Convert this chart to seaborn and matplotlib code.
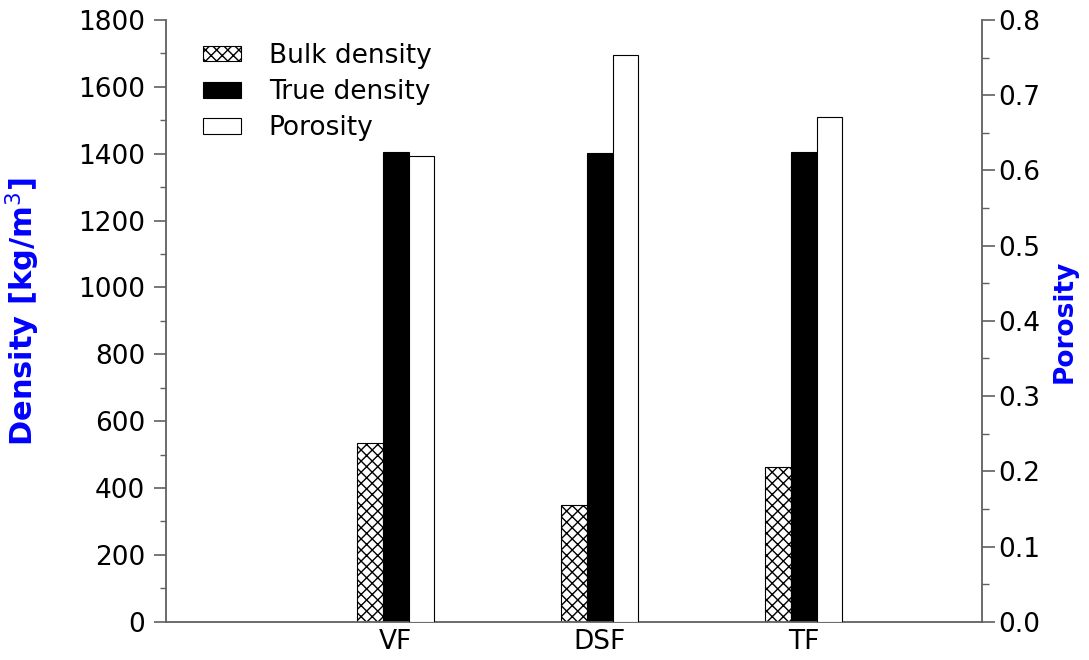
import matplotlib
matplotlib.use("Agg")
import matplotlib.pyplot as plt
from matplotlib.ticker import MultipleLocator, AutoMinorLocator
from matplotlib.patches import Patch
import seaborn as sns
import pandas as pd

categories = ["VF", "DSF", "TF"]
bulk_density = [535, 349, 463]
true_density = [1406, 1401, 1404]
porosity = [0.619, 0.753, 0.671]
series = ["Bulk density", "True density", "Porosity"]

sns.set_style("ticks")
plt.rcParams["font.family"] = ["DejaVu Sans"]
plt.rcParams["hatch.linewidth"] = 1.0
plt.rcParams["text.color"] = "black"
plt.rcParams["xtick.labelcolor"] = "black"
plt.rcParams["ytick.labelcolor"] = "black"

dens = pd.DataFrame({
    "cat": categories * 2,
    "series": [series[0]] * 3 + [series[1]] * 3,
    "value": bulk_density + true_density,
})
por = pd.DataFrame({"cat": categories, "series": [series[2]] * 3, "value": porosity})

palette = {series[0]: "white", series[1]: "black", series[2]: "white"}

fig = plt.figure(figsize=(10.89, 6.6), dpi=100)
ax = fig.add_axes([0.1524, 0.058, 0.7493, 0.9117])
ax2 = ax.twinx()

sns.barplot(data=dens, x="cat", y="value", hue="series", order=categories,
            hue_order=series, palette=palette, width=0.378, errorbar=None,
            saturation=1, edgecolor="black", linewidth=0.8, legend=False,
            dodge=True, ax=ax)
sns.barplot(data=por, x="cat", y="value", hue="series", order=categories,
            hue_order=series, palette=palette, width=0.378, errorbar=None,
            saturation=1, edgecolor="black", linewidth=0.8, legend=False,
            dodge=True, ax=ax2)

for bar in ax.containers[0]:
    bar.set_hatch("xxx")
    bar.set_edgecolor("black")

ax.set_xlim(-1.127, 2.873)
ax.set_ylim(0, 1800)
ax2.set_ylim(0, 0.8)
ax.yaxis.set_major_locator(MultipleLocator(200))
ax.yaxis.set_minor_locator(AutoMinorLocator(2))
ax2.yaxis.set_major_locator(MultipleLocator(0.1))
ax2.yaxis.set_minor_locator(AutoMinorLocator(2))
ax2.yaxis.set_major_formatter(plt.FuncFormatter(lambda v, p: f"{v:.1f}"))

spine_c = "#606060"
for a in (ax, ax2):
    a.spines["top"].set_visible(False)
    for s in a.spines.values():
        s.set_color(spine_c)
        s.set_linewidth(1.3)
ax.spines["right"].set_visible(False)
ax2.spines["left"].set_visible(False)
ax2.spines["bottom"].set_visible(False)

ax.tick_params(axis="y", which="major", length=9, width=1.2, color=spine_c,
               labelsize=19, pad=6, labelcolor="black")
ax.tick_params(axis="y", which="minor", length=4.5, width=1.0, color=spine_c)
ax2.tick_params(axis="y", which="major", length=9, width=1.2, color=spine_c,
                labelsize=19, pad=3, labelcolor="black")
ax2.tick_params(axis="y", which="minor", length=5, width=1.0, color=spine_c)
ax.tick_params(axis="x", length=0, labelsize=19, pad=5, labelcolor="black")

ax.set_xlabel("")
ax.set_ylabel("Density [kg/m$^3$]", color="#0000FF", fontsize=22,
              fontweight="bold")
ax.yaxis.set_label_coords(-0.152, 0.515)
ax2.set_ylabel("Porosity", color="#0000FF", fontsize=19, fontweight="bold",
               labelpad=8)

handles = [
    Patch(facecolor="white", edgecolor="black", hatch="xxx", linewidth=0.8),
    Patch(facecolor="black", edgecolor="black", linewidth=0.8),
    Patch(facecolor="white", edgecolor="black", linewidth=0.8),
]
leg = ax.legend(handles, series, loc="upper left", bbox_to_anchor=(0.045, 0.962),
                frameon=False, fontsize=19, handlelength=1.45, handleheight=0.55,
                handletextpad=1.05, labelspacing=0.38, borderpad=0, borderaxespad=0)
for t in leg.get_texts():
    t.set_color("black")

fig.savefig("out.png", dpi=100)
